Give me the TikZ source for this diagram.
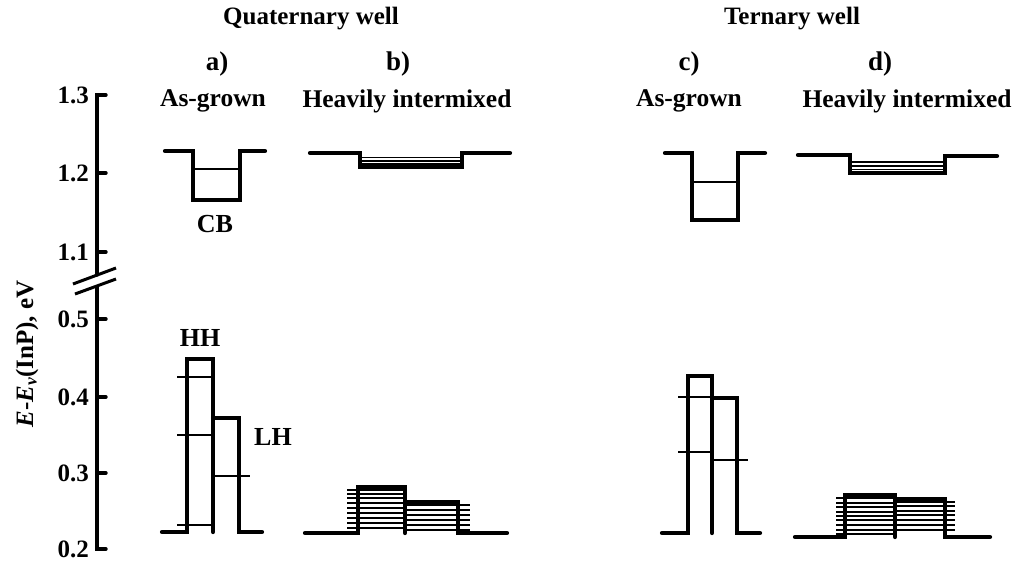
\documentclass[tikz,border=0pt]{standalone}
\usepackage{fontspec}
\setmainfont{Liberation Serif}
\begin{document}
\begin{tikzpicture}[x=1pt,y=-1pt,
  well/.style={line width=4.2pt, line join=miter, line cap=round},
  lev/.style={line width=1.7pt},
  dense/.style={line width=2.6pt},
  axisline/.style={line width=3.4pt, line cap=round},
  title/.style={font=\fontsize{25}{27}\selectfont\bfseries, inner sep=0pt},
  panel/.style={font=\fontsize{27}{29}\selectfont\bfseries, inner sep=0pt},
  sub/.style={font=\fontsize{25.5}{27}\selectfont\bfseries, inner sep=0pt},
  band/.style={font=\fontsize{26}{28}\selectfont\bfseries, inner sep=0pt},
  ticklab/.style={font=\fontsize{25}{27}\selectfont\bfseries, inner sep=0pt, anchor=east}]
\useasboundingbox (0,0) rectangle (1019,568);

% ---------------- titles ----------------
\node[title] (tq) at (311,19) {Quaternary well};
\node[title] (tt) at (792,19) {Ternary well};
\node[panel] (pa) at (217,64) {a)};
\node[panel] (pb) at (398,64) {b)};
\node[panel] (pc) at (689,64) {c)};
\node[panel] (pd) at (880,64) {d)};
\node[sub] (sa) at (213,101) {As-grown};
\node[sub] (sb) at (407,101) {Heavily intermixed};
\node[sub] (sc) at (689,101) {As-grown};
\node[sub] (sd) at (907,101) {Heavily intermixed};

% ---------------- axis ----------------
\draw[axisline] (106,95) -- (97,95) -- (97,275);
\draw[axisline] (97,287) -- (97,549) -- (106,549);
\foreach \yy in {173,252,319,397,473} \draw[axisline] (97,\yy) -- (106,\yy);
\draw[line width=3pt] (73,284) -- (116,268);
\draw[line width=3pt] (75,294) -- (116,279);
\node[ticklab] (l13) at (89,95) {1.3};
\node[ticklab] (l12) at (89,173) {1.2};
\node[ticklab] (l11) at (89,252) {1.1};
\node[ticklab] (l05) at (89,319) {0.5};
\node[ticklab] (l04) at (89,397) {0.4};
\node[ticklab] (l03) at (89,473) {0.3};
\node[ticklab] (l02) at (89,549) {0.2};
\node[font=\fontsize{25}{27}\selectfont\bfseries, rotate=90, inner sep=0pt] (ylab) at (27,354)
  {\textit{E}-\textit{E}\textsubscript{\textit{v}}(InP), eV};

% ---------------- panel a ----------------
\draw[well] (165,151) -- (193,151) -- (193,200) -- (240,200) -- (240,151) -- (265,151);
\draw[lev] (193,169) -- (240,169);
\node[band] (cb) at (215,224) {CB};
\draw[well] (162,532) -- (187,532) -- (187,359) -- (213,359) -- (213,532);
\draw[well] (213,418) -- (239,418) -- (239,532) -- (262,532);
\draw[lev] (177,377) -- (212,377);
\draw[lev] (177,435) -- (212,435);
\draw[lev] (177,525) -- (212,525);
\draw[lev] (213,476) -- (250,476);
\node[band] (hh) at (200,338) {HH};
\node[band] (lh) at (273,437) {LH};

% ---------------- panel b ----------------
\draw[well] (310,153) -- (360,153) -- (360,167) -- (462,167) -- (462,153) -- (510,153);
\draw[lev] (360,157.5) -- (462,157.5);
\draw[lev] (360,161) -- (462,161);
\draw[lev] (360,164) -- (462,164);
\draw[well] (305,533) -- (358,533) -- (358,487) -- (405,487) -- (405,533);
\draw[well] (405,502) -- (458,502) -- (458,533) -- (507,533);
\foreach \yy in {490,494,498,503,508,513,518,523,528}
  \draw[dense] (347,\yy) -- (405,\yy);
\foreach \yy in {505,510,515,520,525,530}
  \draw[dense] (405,\yy) -- (470,\yy);

% ---------------- panel c ----------------
\draw[well] (665,153) -- (692,153) -- (692,220) -- (738,220) -- (738,153) -- (765,153);
\draw[lev] (692,182) -- (738,182);
\draw[well] (662,533) -- (688,533) -- (688,376) -- (712,376) -- (712,533);
\draw[well] (712,398) -- (737,398) -- (737,533) -- (760,533);
\draw[lev] (678,397) -- (712,397);
\draw[lev] (678,452) -- (712,452);
\draw[lev] (712,460) -- (748,460);

% ---------------- panel d ----------------
\draw[well] (798,155) -- (850,155) -- (850,173) -- (945,173) -- (945,156) -- (997,156);
\draw[lev] (850,162) -- (945,162);
\draw[lev] (850,166) -- (945,166);
\draw[lev] (850,169.5) -- (945,169.5);
\draw[well] (795,537) -- (845,537) -- (845,495) -- (895,495) -- (895,537);
\draw[well] (895,499) -- (945,499) -- (945,537) -- (990,537);
\foreach \yy in {498,503,507,512,516,520,525,530,534}
  \draw[dense] (836,\yy) -- (895,\yy);
\foreach \yy in {502,506,511,515,520,525,530}
  \draw[dense] (895,\yy) -- (955,\yy);
\end{tikzpicture}
\end{document}
